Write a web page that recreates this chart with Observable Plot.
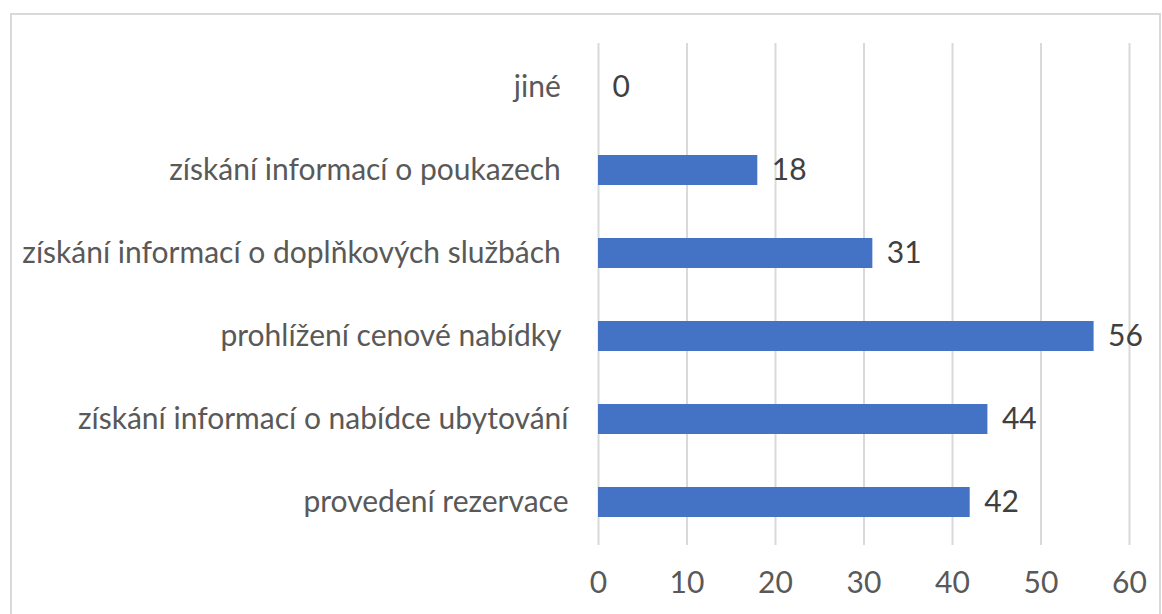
<!DOCTYPE html>
<html><head><meta charset="utf-8">
<script src="https://cdn.jsdelivr.net/npm/d3@7"></script>
<script src="https://cdn.jsdelivr.net/npm/@observablehq/plot@0.6"></script>
<style>
body{margin:0;background:#fff}
#chart{position:absolute;left:0;top:0}
#frame{position:absolute;left:10px;top:13px;width:1151px;height:640px;border:2px solid #d9d9d9;box-sizing:border-box;pointer-events:none}
</style>
</head><body>
<div id="chart"></div><div id="frame"></div>
<script>
const categories = [
  "jiné\u00a0",
  "získání informací o poukazech\u00a0",
  "získání informací o doplňkových službách\u00a0",
  "prohlížení cenové nabídky\u00a0",
  "získání informací o nabídce ubytování",
  "provedení rezervace"
];
const values = [0, 18, 31, 56, 44, 42];
const xTicks = [0, 10, 20, 30, 40, 50, 60];

const data = categories.map((c, i) => ({category: c, value: values[i]}));

const plot = Plot.plot({
  width: 1162, height: 614,
  marginLeft: 598, marginRight: 33, marginTop: 43, marginBottom: 69,
  style: {fontFamily: "Lato, 'Open Sans', sans-serif", fontSize: "30px", color: "#595959", background: "transparent"},
  x: {domain: [0, 60], label: null},
  y: {domain: categories, paddingInner: 0.64, paddingOuter: 0.32, label: null},
  marks: [
    Plot.ruleX(xTicks, {stroke: "#d9d9d9", strokeWidth: 2}),
    Plot.barX(data, {x: "value", y: "category", fill: "#4472C4"}),
    Plot.text(data, {x: "value", y: "category", text: d => String(d.value), textAnchor: "start", dx: 14, fill: "#404040", fontSize: 30}),
    Plot.axisX(xTicks, {tickSize: 0, tickPadding: 26, fontSize: 30, fill: "#595959", label: null}),
    Plot.axisY({tickSize: 0, tickPadding: 30, fontSize: 30, fill: "#595959", label: null})
  ]
});
document.getElementById("chart").append(plot);
</script>
</body></html>
